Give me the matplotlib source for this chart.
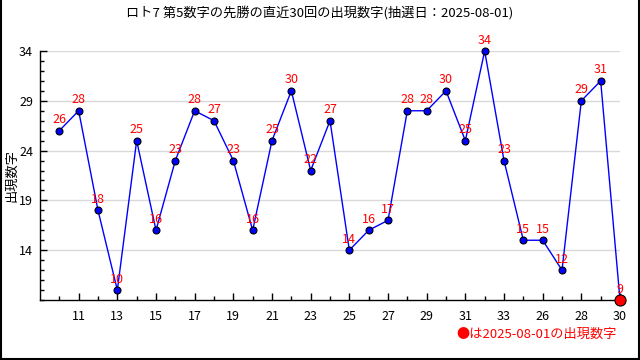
import matplotlib
matplotlib.use('Agg')
import matplotlib.pyplot as plt
from matplotlib.lines import Line2D

plt.rcParams['font.family'] = ['Noto Sans CJK JP', 'DejaVu Sans']

title = 'ロト7 第5数字の先勝の直近30回の出現数字(抽選日：2025-08-01)'
values = [26, 28, 18, 10, 25, 16, 23, 28, 27, 23, 16, 25, 30, 22, 27,
          14, 16, 17, 28, 28, 30, 25, 34, 23, 15, 15, 12, 29, 31, 9]
xlabels = ['11', '13', '15', '17', '19', '21', '23', '25', '27', '29',
           '31', '33', '26', '28', '30']
yticks = [14, 19, 24, 29, 34]
note = '●は2025-08-01の出現数字'

x = list(range(1, len(values) + 1))

fig = plt.figure(figsize=(6.4, 3.6), dpi=100)
ax = fig.add_axes([40/640, 1 - 300/360, 580/640, 249/360])

ax.plot(x, values, color='blue', lw=1, zorder=3, clip_on=False)
ax.plot(x[:-1], values[:-1], 'o', color='blue', mec='black', mew=0.8,
        ms=5, zorder=4, clip_on=False)
ax.plot(x[-1:], values[-1:], 'o', color='red', mec='black', mew=0.8,
        ms=8, zorder=5, clip_on=False)
for xi, v in zip(x, values):
    ax.text(xi, v + 0.45, str(v), color='red', fontsize=9, ha='center',
            va='bottom', zorder=6, clip_on=False)

ax.set_xlim(0, 30)
ax.set_ylim(9, 34)
ax.set_xticks(x[1::2])
ax.set_xticklabels(xlabels, fontsize=9)
ax.set_xticks(x, minor=True)
ax.set_yticks(yticks)
ax.set_yticklabels([str(t) for t in yticks], fontsize=9)
ax.set_yticks(range(9, 35), minor=True)
ax.tick_params(axis='both', which='major', length=5, width=1, direction='in', pad=5)
ax.tick_params(axis='x', which='major', direction='in', pad=7)
ax.tick_params(axis='both', which='minor', length=3, width=1, direction='in')
ax.yaxis.grid(True, color='#d9d9d9', lw=1)
ax.set_axisbelow(True)
for s in ['top', 'right']:
    ax.spines[s].set_visible(False)
ax.spines['left'].set_linewidth(1)
ax.spines['bottom'].set_linewidth(1)

fig.text(12/640, 1 - 175/360, '出現数字', rotation=90, ha='center', va='center', fontsize=9.5)
fig.text(0.5, 0.965, title, ha='center', va='center', fontsize=9.5)
fig.text(617/640, 1 - 334/360, note, ha='right', va='center', fontsize=9.5, color='red')

for xs, ys in [([0.001, 0.001], [0, 1]), ([0.999, 0.999], [0, 1]), ([0, 1], [0.002, 0.002])]:
    fig.add_artist(Line2D(xs, ys, color='black', lw=1.5, transform=fig.transFigure))

fig.savefig('out.png', dpi=100)
